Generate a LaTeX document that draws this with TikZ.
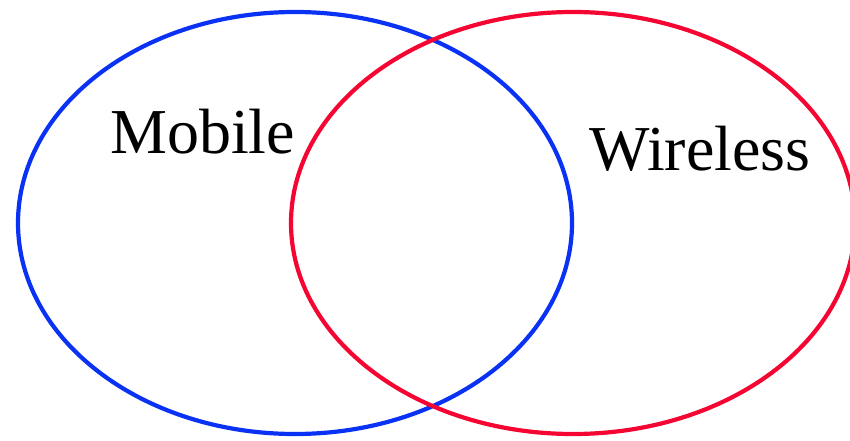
\documentclass[tikz,border=0pt]{standalone}
\usepackage{fontspec}
\setmainfont{Liberation Serif}
\definecolor{setblue}{RGB}{10,50,245}
\definecolor{setred}{RGB}{245,5,50}
\begin{document}
\begin{tikzpicture}
  [x=1pt,y=-1pt,every node/.style={inner sep=0pt,anchor=base west,font=\fontsize{64}{64}\selectfont},
   setline/.style={line width=4.2pt}]
  \useasboundingbox (0,0) rectangle (850,441);
  \draw[setline,draw=setblue] (295,223) ellipse [x radius=277, y radius=211];
  \draw[setline,draw=setred] (573,223) ellipse [x radius=282, y radius=211];

  \node (mobile) at (110,153) {Mobile};
  \node (wireless) at (589,170) {Wireless};
\end{tikzpicture}
\end{document}
